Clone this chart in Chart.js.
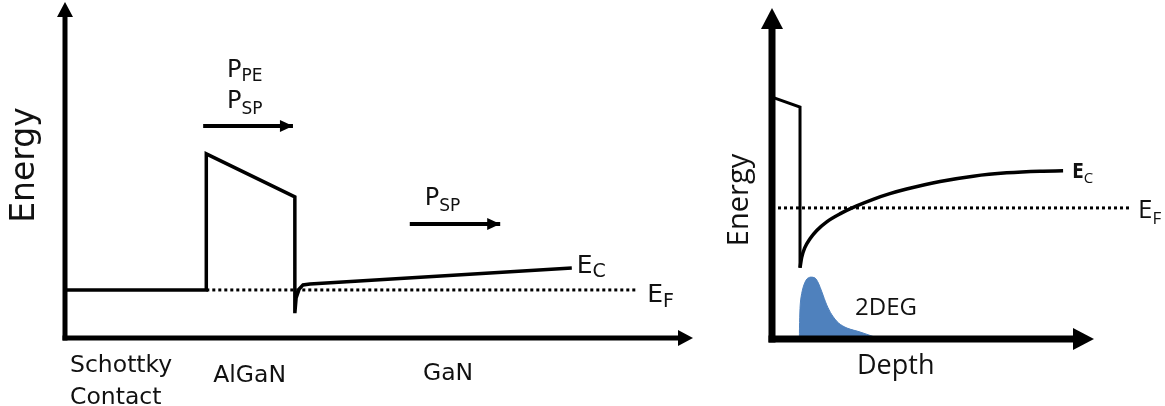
<!DOCTYPE html>
<html><head><meta charset="utf-8">
<script src="https://cdn.jsdelivr.net/npm/chart.js@4.4.1/dist/chart.umd.min.js"></script>
<style>
html,body{margin:0;padding:0;background:#fff;overflow:hidden}
#wrap{position:relative;width:1165px;height:406px}
#left{position:absolute;left:0;top:0}
#right{position:absolute;left:720px;top:0}
</style></head><body>
<div id="wrap"><canvas id="left" width="720" height="406"></canvas><canvas id="right" width="445" height="406"></canvas></div>
<script>
// ---------- LEFT PANEL (depth / energy in arbitrary units 0..100) ----------
const leftBandX  = [0, 22.5, 22.5, 36.6, 36.6, 36.8, 37.3, 37.9, 39.0, 80.7];
const leftBandY  = [14.3, 14.3, 54.8, 42.0, 7.4, 11.9, 14.6, 15.8, 16.1, 20.8];
const leftFermiX = [22.5, 91.1];
const leftFermiY = [14.3, 14.3];
const arrowPeX   = [22.0, 36.3];
const arrowPeY   = [63.1, 63.1];
const arrowSpX   = [54.9, 69.3];
const arrowSpY   = [33.9, 33.9];
const leftRegions = ['Schottky', 'Contact', 'AlGaN', 'GaN'];
const leftAxisTitle = 'Energy';

// ---------- RIGHT PANEL ----------
const rightBarrierX = [0, 8.7, 8.7];
const rightBarrierY = [73.1, 70.1, 21.5];
const rightWellX = [8.7, 9.2, 10.2, 11.8, 13.9, 17.0, 21.1, 26.3, 31.4, 36.6, 41.8, 52.2, 62.5, 72.9, 83.2, 90.4];
const rightWellY = [21.5, 24.6, 27.6, 30.3, 32.8, 35.4, 37.8, 40.2, 42.2, 43.9, 45.3, 47.6, 49.2, 50.2, 50.7, 50.8];
const rightFermiX = [0, 111.5];
const rightFermiY = [39.6, 39.6];
const degX = [8.5, 8.6, 8.9, 9.7, 10.8, 12.0, 13.4, 14.4, 15.5, 17.0, 18.6, 20.7, 23.3, 27.4, 33.6];
const degY = [0, 6.6, 11.8, 15.7, 18.1, 18.7, 18.4, 16.9, 14.2, 10.3, 7.3, 4.8, 3.3, 2.1, 0];
const rightAxisTitles = ['Energy', 'Depth'];
const rightLabel2DEG = '2DEG';

function pts(xs, ys){ return xs.map((x,i)=>({x:x, y:ys[i]})); }

function head(ctx, x, y, ang, len, half){
  ctx.save(); ctx.translate(x,y); ctx.rotate(ang);
  ctx.beginPath(); ctx.moveTo(0,0); ctx.lineTo(-len,-half); ctx.lineTo(-len,half); ctx.closePath(); ctx.fill();
  ctx.restore();
}

const schematic = {
  id:'schematic',
  afterDraw(chart, args, opts){
    const ctx=chart.ctx, a=chart.chartArea, xs=chart.scales.x, ys=chart.scales.y;
    ctx.save();
    ctx.fillStyle='#000'; ctx.strokeStyle='#000';
    chart.data.datasets.forEach((ds,i)=>{
      if(!ds.arrowHead) return;
      const d=chart.getDatasetMeta(i).data; const p=d[d.length-1], q=d[d.length-2];
      head(ctx,p.x,p.y,Math.atan2(p.y-q.y,p.x-q.x),ds.arrowHead.len,ds.arrowHead.half);
    });
    const w=opts.axisWidth;
    ctx.lineWidth=w; ctx.lineCap='butt';
    ctx.beginPath(); ctx.moveTo(a.left, a.bottom + w/2); ctx.lineTo(a.left, a.top+opts.headLen-1); ctx.stroke();
    ctx.beginPath(); ctx.moveTo(a.left - w/2, a.bottom); ctx.lineTo(a.right-opts.headLen+1, a.bottom); ctx.stroke();
    head(ctx,a.left,a.top,-Math.PI/2,opts.headLen,opts.headHalf);
    head(ctx,a.right,a.bottom,0,opts.headLen,opts.headHalf);
    opts.texts.forEach(t=>{
      const px=xs.getPixelForValue(t.x), py=ys.getPixelForValue(t.y);
      ctx.save(); ctx.translate(px,py); if(t.rotate) ctx.rotate(t.rotate);
      ctx.textBaseline='alphabetic'; ctx.textAlign='left'; ctx.fillStyle=t.color||'#111';
      let total=0; t.parts.forEach(p=>{ctx.font=p.font; total+=ctx.measureText(p.text).width;});
      let cx = t.align==='center' ? -total/2 : 0;
      t.parts.forEach(p=>{ctx.font=p.font; ctx.fillText(p.text,cx+(p.dx||0),p.dy||0); cx+=ctx.measureText(p.text).width+(p.dx||0);});
      ctx.restore();
    });
    ctx.restore();
  }
};

function baseOptions(pad, xmax, ymax, plug){
  return {
    responsive:false, animation:false, devicePixelRatio:1, events:[],
    layout:{padding:pad},
    scales:{
      x:{type:'linear', min:0, max:xmax, display:false},
      y:{type:'linear', min:0, max:ymax, display:false}
    },
    elements:{point:{radius:0}, line:{borderJoinStyle:'miter', borderCapStyle:'butt'}},
    plugins:{legend:{display:false}, tooltip:{enabled:false}, schematic:plug}
  };
}

const DJ = '"DejaVu Sans", Verdana, sans-serif';
const OS = '"Open Sans", "Noto Sans", sans-serif';

new Chart(document.getElementById('left'), {
  type:'line',
  data:{datasets:[
    {data:pts(leftBandX,leftBandY), borderColor:'#000', borderWidth:3.5, tension:0, clip:false},
    {data:pts(leftFermiX,leftFermiY), borderColor:'#000', borderWidth:3, borderDash:[3,3], tension:0, clip:false},
    {data:pts(arrowPeX,arrowPeY), borderColor:'#000', borderWidth:4, arrowHead:{len:13,half:6}, clip:false},
    {data:pts(arrowSpX,arrowSpY), borderColor:'#000', borderWidth:4, arrowHead:{len:13,half:6}, clip:false}
  ]},
  options: baseOptions({left:65,right:27,top:2,bottom:68}, 100, 100, {
    axisWidth:5, headLen:15, headHalf:8,
    texts:[
      {x:-4.9, y:51.5, rotate:-Math.PI/2, align:'center', parts:[{text:leftAxisTitle, font:'33px '+DJ}]},
      {x:25.8, y:77.7, parts:[{text:'P', font:'24px '+DJ},{text:'PE', font:'17px '+DJ, dy:4, dx:0}]},
      {x:25.8, y:68.5, parts:[{text:'P', font:'24px '+DJ},{text:'SP', font:'17px '+DJ, dy:6, dx:0}]},
      {x:57.3, y:39.6, parts:[{text:'P', font:'24px '+DJ},{text:'SP', font:'17px '+DJ, dy:6, dx:0}]},
      {x:81.5, y:19.3, parts:[{text:'E', font:'25px '+DJ},{text:'C', font:'19px '+DJ, dy:4}]},
      {x:92.7, y:10.7, parts:[{text:'E', font:'25px '+DJ},{text:'F', font:'19px '+DJ, dy:5}]},
      {x:0.8, y:-10.1, parts:[{text:leftRegions[0], font:'23.5px '+DJ}]},
      {x:0.8, y:-19.6, parts:[{text:leftRegions[1], font:'23.5px '+DJ}]},
      {x:23.6, y:-13.1, parts:[{text:leftRegions[2], font:'23.5px '+DJ}]},
      {x:57.0, y:-12.5, parts:[{text:leftRegions[3], font:'23.5px '+DJ}]}
    ]
  })
  , plugins:[schematic]
});

new Chart(document.getElementById('right'), {
  type:'line',
  data:{datasets:[
    {data:pts(rightBarrierX,rightBarrierY), borderColor:'#000', borderWidth:3, tension:0, clip:false},
    {data:pts(rightWellX,rightWellY), borderColor:'#000', borderWidth:3.5, cubicInterpolationMode:'monotone', tension:0.4, clip:false},
    {data:pts(rightFermiX,rightFermiY), borderColor:'#000', borderWidth:3, borderDash:[3,3], tension:0, clip:false},
    {data:pts(degX,degY), borderColor:'#4F81BD', borderWidth:1, backgroundColor:'#4F81BD', fill:'origin', tension:0.3, clip:false}
  ]},
  options: baseOptions({left:52,right:71,top:8,bottom:67}, 100, 100, {
    axisWidth:7, headLen:21, headHalf:11,
    texts:[
      {x:-7.5, y:42, rotate:-Math.PI/2, align:'center', parts:[{text:rightAxisTitles[0], font:'29px '+OS}]},
      {x:26.4, y:-10.6, parts:[{text:rightAxisTitles[1], font:'27px '+OS}]},
      {x:25.8, y:7.3, parts:[{text:rightLabel2DEG, font:'24px '+OS}]},
      {x:93.2, y:48.6, parts:[{text:'E', font:'bold 21px '+OS},{text:'C', font:'15px '+OS, dy:5}]},
      {x:113.7, y:36.6, parts:[{text:'E', font:'26px '+OS},{text:'F', font:'17px '+OS, dy:6}]}
    ]
  })
  , plugins:[schematic]
});
</script>
</body></html>
